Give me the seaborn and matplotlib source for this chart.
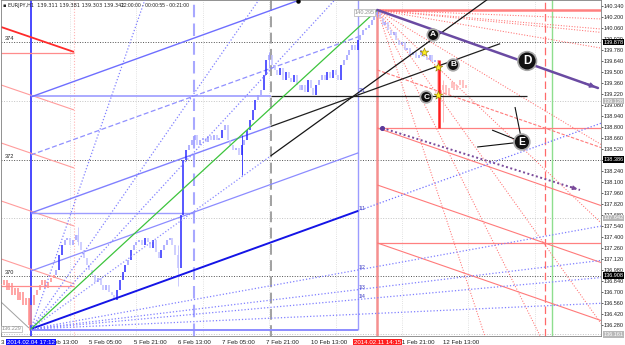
import numpy as np
import pandas as pd
import matplotlib
matplotlib.use("Agg")
import matplotlib.pyplot as plt
import matplotlib.transforms as mtransforms
import seaborn as sns

# x = H1 bar number counted from 3 Feb 21:00 (weekend hours skipped), y = EURJPY price
tick_bars = [0, 16, 32, 48, 64, 80, 96, 112, 128, 144, 160]
tick_text = ["3 Feb 21:00", "4 Feb 13:00", "5 Feb 05:00", "5 Feb 21:00", "6 Feb 13:00",
             "7 Feb 05:00", "7 Feb 21:00", "10 Feb 13:00", "11 Feb 05:00", "11 Feb 21:00",
             "12 Feb 13:00"]
price_ticks = [140.340, 140.200, 140.060, 139.920, 139.780, 139.640, 139.500, 139.360,
               139.220, 139.080, 138.940, 138.800, 138.660, 138.520, 138.380, 138.240,
               138.100, 137.960, 137.820, 137.680, 137.540, 137.400, 137.260, 137.120,
               136.980, 136.840, 136.700, 136.560, 136.420, 136.280]

closes = [136.79, 136.85, 136.73, 136.81, 136.66, 136.75, 136.60, 136.70, 136.53, 136.62, 136.28,
          136.53, 136.66, 136.73, 136.79, 136.85, 136.75, 136.83, 136.88, 136.92, 136.98,
          137.17, 137.30, 137.36, 137.39, 137.30, 137.36, 137.43, 137.34,
          137.23, 137.13, 137.04, 136.98,
          136.92, 136.83, 136.88, 136.79, 136.73, 136.79, 136.70, 136.66, 136.60, 136.73,
          136.85, 136.95, 137.04, 137.11, 137.23, 137.30, 137.34, 137.36,
          137.30, 137.39, 137.34, 137.26, 137.36, 137.21, 137.13, 137.23, 137.30, 137.36,
          137.39, 137.30, 137.17, 137.01,
          137.68, 138.38,
          138.51, 138.57, 138.63, 138.70, 138.57, 138.63,
          138.66, 138.61, 138.69, 138.63, 138.70, 138.63, 138.66, 138.76, 138.83,
          138.63, 138.57, 138.51, 138.53, 138.44, 138.57, 138.63,
          138.76, 138.89, 139.02, 139.14, 139.21, 139.27, 139.46, 139.65,
          139.72, 139.59,
          139.53, 139.46, 139.55, 139.40, 139.50, 139.42, 139.37, 139.46, 139.33,
          139.27, 139.33, 139.25, 139.40, 139.30, 139.21, 139.33, 139.40, 139.46,
          139.40, 139.50, 139.42, 139.53, 139.46, 139.40, 139.59,
          139.65, 139.72, 139.78, 139.84, 139.78, 139.91,
          139.97, 140.03, 140.06, 140.10, 140.16, 140.23, 140.26,
          140.19, 140.10, 140.14, 140.03, 139.97, 140.01, 139.91, 139.84, 139.88, 139.78,
          139.81, 139.72,
          139.75, 139.68, 139.72, 139.78, 139.69, 139.65, 139.72, 139.63, 139.65,
          139.21, 139.27, 139.33, 139.21, 139.30, 139.37, 139.27, 139.33, 139.40, 139.30,
          139.33]
first_open = 136.80
spikes = {10: (136.62, 136.22), 28: (137.53, 137.30), 64: (137.30, 136.77),
          87: (138.70, 138.19), 97: (139.76, 139.55), 136: (140.29, 140.20),
          160: (139.40, 138.86)}

# anchor points
low_bar, low_price = 10.8, 136.229
top_bar, top_price = 136.1, 140.289
right_bar = 217

# Gann fan from the low
gann_scale = 0.0127
gann_ratios = [8, 4, 3, 2, 1, 1/2, 1/3, 1/4, 1/8]
gann_labels = ["2/1", "1/1", "1/2", "1/3", "1/4"]
gann_label_ratios = [2, 1, 1/2, 1/3, 1/4]
fan_stop_bar = 129.2

# blue parallel channel starting at the low's bar
chan_prices = [139.182, 138.444, 137.705, 136.967]

# red channels (left mirror and right of the top)
left_chan_prices = [140.073, 139.335, 138.597, 137.859, 137.121]
left_chan_end = 26.4
left_chan_slope = -0.01205
left_hlines = [139.742, 136.776]
right_chan_prices = [139.525, 138.787, 138.062, 137.324]
right_chan_slope = -0.0122
right_hlines = [138.787, 137.324]

# red fan from the top
red_fan_bar = [217, 217, 217, 217, 217, 217, 217, 195, 175]
red_fan_price = [140.175, 140.047, 140.004, 139.804, 138.578, 137.58, 136.30, 136.14, 136.14]

# levels
black_levels = [139.878, 138.386, 136.908]
black_level_names = ["374", "372", "370"]
black_level_text = ["139.878", "138.386", "136.908"]
gray_levels = [139.128, 137.642, 136.161]
gray_level_text = ["139.128", "137.642", "136.161"]
daily_grid = [25, 49, 73, 97, 121, 145, 169, 193]

marks_text = ["A", "B", "C", "D", "E"]
marks_bar = [156.3, 163.5, 153.8, 190.3, 188.4]
marks_price = [139.971, 139.589, 139.181, 139.640, 138.609]
marks_size = [6, 6, 6, 8.5, 7.5]
stars_bar = [153.1, 158.1, 158.1]
stars_price = [139.754, 139.563, 139.207]
e_target_bar = [185.9, 177.6, 172.2]
e_target_price = [139.054, 138.761, 138.545]

sns.set_style("white")
plt.rcParams["font.family"] = ["Liberation Sans Narrow", "Liberation Sans", "DejaVu Sans"]

fig = plt.figure(figsize=(6.25, 3.45), dpi=100)
ax = fig.add_axes([0.0016, 9 / 345, 600 / 625, 336 / 345])
ax.set_xlim(0, right_bar)
ax.set_ylim(136.14, 140.416)
ax.set_facecolor("white")

def seg(x0, y0, x1, y1, **kw):
    ax.plot([x0, x1], [y0, y1], solid_capstyle="butt", **kw)

dot = (0, (1, 1.6))

# grid + levels
for b in daily_grid:
    ax.axvline(b, color="#d8d8d8", lw=0.6, ls=dot, zorder=0)
for v in black_levels:
    ax.axhline(v, color="#505050", lw=0.7, ls=dot, zorder=1)
for v in gray_levels:
    ax.axhline(v, color="#c4c4c4", lw=0.7, ls=dot, zorder=1)

# vertical objects
ax.axvline(low_bar, color="#3c3cff", lw=1.3, zorder=2)
ax.axvline(left_chan_end, color="#ffb4b4", lw=0.8, ls=dot, zorder=2)
ax.axvline(69.7, color="#a8a8ff", lw=1.5, ls=(0, (6, 3)), zorder=2)
ax.axvline(97.5, color="#9a9a9a", lw=1.3, ls=(0, (6, 3)), zorder=2)
seg(fan_stop_bar, 136.216, fan_stop_bar, 140.416, color="#9c9cff", lw=1.0, zorder=2)
seg(top_bar, top_price, top_bar, 136.14, color="#f59090", lw=1.8, zorder=2)
ax.axvline(196.8, color="#ff6a6a", lw=0.9, ls=(0, (6, 3)), zorder=2)
ax.axvline(199.3, color="#8ede8e", lw=1.0, zorder=2)

# candles
opens = [first_open] + closes[:-1]
for i, (o, c) in enumerate(zip(opens, closes)):
    if i < 20:
        col = "#ff8c8c"
    elif i >= 158:
        col = "#ffb0b0"
    elif c > o and c - o > 0.08:
        col = "#2a2aff"
    elif c > o:
        col = "#9c9cff"
    else:
        col = "#c2c2ff"
    hi, lo = max(o, c), min(o, c)
    if i in spikes:
        hi, lo = max(hi, spikes[i][0]), min(lo, spikes[i][1])
        ax.vlines(i, lo, hi, color=col, lw=0.6, zorder=3)
    ax.vlines(i, min(o, c), max(o, c), color=col, lw=1.1, zorder=3)

# left red channel
for k, p in enumerate(left_chan_prices):
    if k == 0:
        seg(0, p, left_chan_end, p + left_chan_slope * left_chan_end, color="#ff2a2a", lw=1.3, zorder=2)
    else:
        seg(0, p, left_chan_end, p + left_chan_slope * left_chan_end, color="#ff9c9c", lw=0.8, zorder=2)
for p in left_hlines:
    seg(0, p, left_chan_end, p, color="#ff8c8c", lw=0.9, zorder=2)
seg(0, 136.573, 10.1, 136.242, color="#a0a0a0", lw=0.7, zorder=2)

# blue horizontals
seg(low_bar, 139.19, 97.5, 139.19, color="#9c9cff", lw=1.2, zorder=2)
seg(97.5, 139.19, 190.3, 139.19, color="#202020", lw=0.9, zorder=4)
seg(low_bar, 137.705, 69.7, 137.705, color="#9c9cff", lw=1.0, zorder=2)
seg(low_bar, 136.216, fan_stop_bar, 136.216, color="#8c8cff", lw=1.4, zorder=2)

# blue channel
p0 = chan_prices[0]
seg(low_bar, p0, 107.5, p0 + gann_scale * (107.5 - low_bar), color="#6e6eff", lw=1.0, zorder=2)
ax.scatter([107.5], [140.40], s=5, color="black", zorder=5)
p1 = chan_prices[1]
seg(low_bar, p1, fan_stop_bar, p1 + gann_scale * (fan_stop_bar - low_bar), color="#9090ff",
    lw=0.9, ls=(0, (4, 2)), zorder=2)
p2 = chan_prices[2]
seg(low_bar, p2, 97.5, p2 + gann_scale * (97.5 - low_bar), color="#8080ff", lw=1.0, zorder=2)
seg(97.5, p2 + gann_scale * (97.5 - low_bar), 180.5, p2 + gann_scale * (180.5 - low_bar),
    color="#202020", lw=0.9, zorder=4)
p3 = chan_prices[3]
seg(low_bar, p3, fan_stop_bar, p3 + gann_scale * (fan_stop_bar - low_bar), color="#8c8cff", lw=0.9, zorder=2)

# Gann fan
for r in gann_ratios:
    sl = gann_scale * r
    if r == 1:
        seg(low_bar, low_price, fan_stop_bar, low_price + sl * (fan_stop_bar - low_bar),
            color="#1414e6", lw=1.4, zorder=3)
        seg(fan_stop_bar, low_price + sl * (fan_stop_bar - low_bar), right_bar,
            low_price + sl * (right_bar - low_bar), color="#7272ff", lw=0.9, ls=dot, zorder=3)
    elif r == 2:
        seg(low_bar, low_price, 97.5, low_price + sl * (97.5 - low_bar), color="#8a8aff",
            lw=0.9, ls=dot, zorder=3)
        seg(97.5, low_price + sl * (97.5 - low_bar), right_bar, low_price + sl * (right_bar - low_bar),
            color="#151515", lw=0.9, zorder=4)
    else:
        seg(low_bar, low_price, right_bar, low_price + sl * (right_bar - low_bar), color="#8080ff",
            lw=0.9, ls=dot, zorder=3)
for name, r in zip(gann_labels, gann_label_ratios):
    ax.text(fan_stop_bar + 0.3, low_price + gann_scale * r * (fan_stop_bar - low_bar), name,
            fontsize=3.5, color="#3030c0", ha="left", va="bottom", zorder=6)

# green trend line (low to top)
trend = pd.DataFrame({"bar": [low_bar, top_bar], "price": [low_price, top_price]})
sns.lineplot(data=trend, x="bar", y="price", color="#3cc43c", lw=0.9, ax=ax, zorder=4)

# right side red structures
ax.plot([top_bar, right_bar], [top_price, top_price], color="#ff8080", lw=1.8, zorder=2)
for p in right_hlines:
    seg(top_bar, p, right_bar, p, color="#ff8080", lw=0.9, zorder=2)
for k, p in enumerate(right_chan_prices):
    seg(top_bar, p, right_bar, p + right_chan_slope * (right_bar - top_bar), color="#ff7a7a",
        lw=0.8, ls=(0, (3, 1.5)) if k == 0 else "-", zorder=2)
for b, p in zip(red_fan_bar, red_fan_price):
    seg(top_bar, top_price, b, p, color="#ff7070", lw=0.75, ls=dot, zorder=2)
seg(158.5, 139.653, 158.5, 138.787, color="#ff1c1c", lw=1.8, zorder=5)

# purple arrows
d_line = pd.DataFrame({"bar": [top_bar, 215.9], "price": [top_price, 139.296]})
sns.lineplot(data=d_line, x="bar", y="price", color="#6a4aa2", lw=1.8, ax=ax, zorder=5)
ax.annotate("", xy=(215.9, 139.296), xytext=(210, 139.37),
            arrowprops=dict(arrowstyle="-|>", color="#6a4aa2", lw=1.2, mutation_scale=7), zorder=5)
seg(137.9, 138.787, 209.4, 137.998, color="#7a4a9a", lw=1.4, ls=(0, (1, 1.3)), zorder=5)
ax.scatter([137.9], [138.787], s=7, color="#5a3a9a", zorder=5)
ax.annotate("", xy=(209.4, 137.998), xytext=(205, 138.045),
            arrowprops=dict(arrowstyle="-|>", color="#7a4a9a", lw=1.0, mutation_scale=6), zorder=5)

# E pointers
for b, p in zip(e_target_bar, e_target_price):
    seg(marks_bar[4], marks_price[4], b, p, color="#101010", lw=0.8, zorder=6)

# yellow markers and letter marks
ax.scatter(stars_bar, stars_price, marker="*", s=42, color="#ffee22", edgecolor="#8a7a00",
           linewidth=0.4, zorder=7)
for t, b, p, fs in zip(marks_text, marks_bar, marks_price, marks_size):
    ax.text(b, p, t, fontsize=fs, color="white", weight="bold", ha="center", va="center", zorder=8,
            family=["Liberation Sans", "DejaVu Sans"],
            bbox=dict(boxstyle="circle,pad=0.28", fc="#111111", ec="#a8a8a8", lw=1.2))

# price tags on chart
ax.text(top_bar - 1, 140.26, "140.295", fontsize=4, color="#909090", ha="right", va="center",
        zorder=8, bbox=dict(boxstyle="square,pad=0.15", fc="white", ec="#b0b0b0", lw=0.5))
ax.text(low_bar - 3.5, 136.23, "136.229", fontsize=4, color="#909090", ha="right", va="center",
        zorder=8, bbox=dict(boxstyle="square,pad=0.15", fc="white", ec="#b0b0b0", lw=0.5))
for name, v in zip(black_level_names, black_levels):
    ax.text(1.2, v + 0.01, name, fontsize=4, color="#202020", ha="left", va="bottom", zorder=8)

# header
ax.text(0.004, 0.992, "\u25aa EURJPY,H1  139.311 139.381 139.303 139.341", transform=ax.transAxes,
        fontsize=3.6, color="#202020", ha="left", va="top", zorder=9,
        family=["Liberation Sans Narrow", "DejaVu Sans"])
ax.text(0.2, 0.992, "22:00:00 - 00:00:55 - 00:21:00", transform=ax.transAxes,
        fontsize=3.6, color="#202020", ha="left", va="top", zorder=9)

# axes
ax.yaxis.tick_right()
ax.set_yticks(price_ticks)
ax.set_yticklabels([f"{v:.3f}" for v in price_ticks])
ax.set_xticks(tick_bars)
ax.set_xticklabels(tick_text, ha="left")
ax.tick_params(axis="x", labelsize=4.4, length=1.5, width=0.5, pad=1.2, colors="#202020")
ax.tick_params(axis="y", labelsize=4.0, length=1.2, width=0.5, pad=1.0, colors="#202020")
ax.set_xlabel("")
ax.set_ylabel("")
for s in ax.spines.values():
    s.set_color("#808080")
    s.set_linewidth(0.6)

ytr = mtransforms.blended_transform_factory(ax.transAxes, ax.transData)
for v, t in zip(black_levels, black_level_text):
    ax.text(1.004, v, t, transform=ytr, fontsize=4.0, color="white", ha="left", va="center",
            clip_on=False, zorder=10, bbox=dict(boxstyle="square,pad=0.12", fc="black", ec="none"))
for v, t in zip(gray_levels, gray_level_text):
    ax.text(1.004, v, t, transform=ytr, fontsize=4.0, color="white", ha="left", va="center",
            clip_on=False, zorder=10, bbox=dict(boxstyle="square,pad=0.12", fc="#b8b8b8", ec="none"))
xtr = ax.get_xaxis_transform()
ax.text(low_bar, -0.012, "2014.02.04 17:12", transform=xtr, fontsize=4.4, color="white",
        ha="center", va="top", clip_on=False, zorder=10,
        bbox=dict(boxstyle="square,pad=0.12", fc="#1010ff", ec="none"))
ax.text(top_bar, -0.012, "2014.02.11 14:15", transform=xtr, fontsize=4.4, color="white",
        ha="center", va="top", clip_on=False, zorder=10,
        bbox=dict(boxstyle="square,pad=0.12", fc="#ff2020", ec="none"))

fig.savefig("out.png", dpi=100, facecolor="white")
